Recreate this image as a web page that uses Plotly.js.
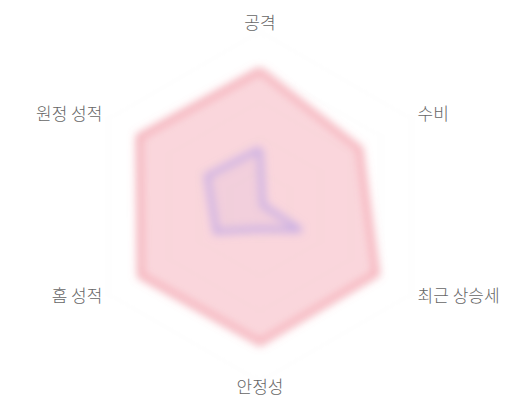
<!DOCTYPE html>
<html>
<head>
<meta charset="utf-8">
<script src="https://cdn.plot.ly/plotly-3.0.1.min.js"></script>
<style>
    body { margin: 0; background: #fff; }
    #radarChart { width: 520px; height: 400px; }
</style>
</head>
<body>
<div id="radarChart"></div>
<script>
// Data
var categories = ["공격", "수비", "최근 상승세", "안정성", "홈 성적", "원정 성적"];
var teamA = [78, 66, 77, 78, 79, 80];
var teamB = [33, 2, 27, 13, 29, 35];
var labelPositions = ["middle center", "middle right", "middle right", "middle center", "middle left", "middle left"];

function closeLoop(arr) {
    return arr.concat([arr[0]]);
}

function plotRadarChart() {
    var trace1 = {
        type: "scatterpolar",
        r: closeLoop(teamA),
        theta: closeLoop(categories),
        fill: "toself",
        fillcolor: "rgba(235, 95, 115, 0.25)",
        line: { color: "rgba(238, 120, 135, 0.55)", width: 6 },
        mode: "lines",
        hoverinfo: "skip"
    };
    var trace2 = {
        type: "scatterpolar",
        r: closeLoop(teamB),
        theta: closeLoop(categories),
        fill: "toself",
        fillcolor: "rgba(170, 140, 220, 0.1)",
        line: { color: "rgba(170, 150, 235, 0.55)", width: 6 },
        mode: "lines",
        hoverinfo: "skip"
    };
    // category labels just outside the 100 ring
    var labels = {
        type: "scatterpolar",
        r: categories.map(function () { return 104; }),
        theta: categories,
        text: categories,
        mode: "text",
        textposition: labelPositions,
        textfont: { size: 17, color: "#666", weight: 300 },
        cliponaxis: false,
        hoverinfo: "skip"
    };
    var layout = {
        width: 520,
        height: 400,
        margin: { t: 0, b: 0, l: 0, r: 0 },
        paper_bgcolor: "#fff",
        showlegend: false,
        font: { family: "'Noto Sans CJK KR', 'Noto Sans', sans-serif", size: 15, color: "#666" },
        polar: {
            domain: { x: [67.5 / 520, 452.5 / 520], y: [1 / 400, 386 / 400] },
            bgcolor: "rgba(0,0,0,0)",
            gridshape: "linear",
            radialaxis: {
                range: [0, 110],
                tickvals: [20, 40, 60, 80, 100],
                showticklabels: false,
                ticks: "",
                showline: false,
                gridcolor: "rgba(0,0,0,0.035)"
            },
            angularaxis: {
                rotation: 90,
                direction: "clockwise",
                showticklabels: false,
                ticks: "",
                showline: false,
                gridcolor: "rgba(0,0,0,0)"
            }
        }
    };
    return Plotly.newPlot("radarChart", [trace1, trace2, labels], layout, { staticPlot: true });
}

// soft blur on the filled shapes, labels stay sharp
function addBlur() {
    var svg = document.querySelector("#radarChart .main-svg");
    var ns = "http://www.w3.org/2000/svg";
    var defs = svg.querySelector("defs") || svg.insertBefore(document.createElementNS(ns, "defs"), svg.firstChild);
    var filter = document.createElementNS(ns, "filter");
    filter.setAttribute("id", "softBlur");
    filter.setAttribute("x", "-20%"); filter.setAttribute("y", "-20%");
    filter.setAttribute("width", "140%"); filter.setAttribute("height", "140%");
    var blur = document.createElementNS(ns, "feGaussianBlur");
    blur.setAttribute("stdDeviation", "4.5");
    filter.appendChild(blur);
    defs.appendChild(filter);
    var groups = document.querySelectorAll("#radarChart .polar .radial-grid");
    for (var i = 0; i < groups.length; i++) {
        groups[i].setAttribute("filter", "url(#softBlur)");
    }
    var traces = document.querySelectorAll("#radarChart .polar .frontplot .trace");
    for (i = 0; i < 2 && i < traces.length; i++) {
        traces[i].setAttribute("filter", "url(#softBlur)");
    }
}

plotRadarChart().then(addBlur);
</script>
</body>
</html>
